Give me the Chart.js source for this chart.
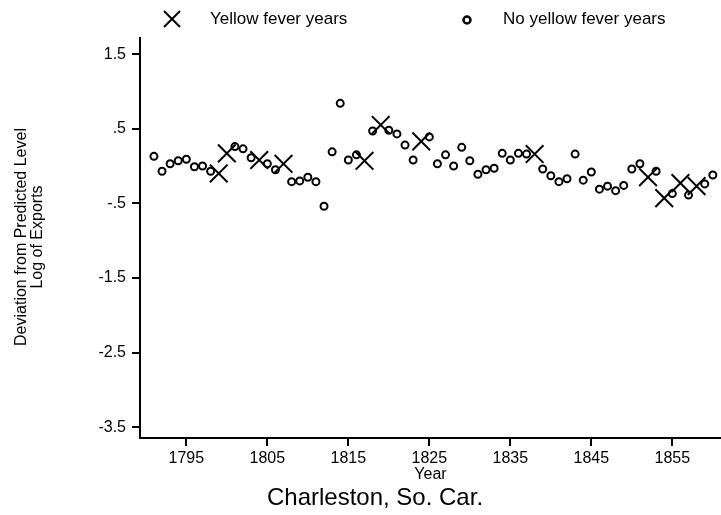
<!DOCTYPE html>
<html>
<head>
<meta charset="utf-8">
<script src="https://cdn.jsdelivr.net/npm/chart.js@4/dist/chart.umd.min.js"></script>
<style>
  html, body { margin: 0; padding: 0; background: #fff; }
  #wrap { width: 721px; height: 515px; position: relative; }
</style>
</head>
<body>
<div id="wrap"><canvas id="chart"></canvas></div>
<script>
// years with yellow fever (drawn as X)
const feverYears = [1799, 1800, 1804, 1807, 1817, 1819, 1824, 1838, 1852, 1854, 1856, 1858];
const feverValues = [-0.10, 0.17, 0.08, 0.03, 0.07, 0.55, 0.33, 0.16, -0.15, -0.43, -0.23, -0.27];

// years without yellow fever (drawn as small circles)
const otherYears = [1791, 1792, 1793, 1794, 1795, 1796, 1797, 1798, 1801, 1802, 1803, 1805, 1806,
  1808, 1809, 1810, 1811, 1812, 1813, 1814, 1815, 1816, 1818, 1820, 1821, 1822, 1823, 1825,
  1826, 1827, 1828, 1829, 1830, 1831, 1832, 1833, 1834, 1835, 1836, 1837, 1839, 1840, 1841,
  1842, 1843, 1844, 1845, 1846, 1847, 1848, 1849, 1850, 1851, 1853, 1855, 1857, 1859, 1860];
const otherValues = [0.13, -0.07, 0.03, 0.07, 0.09, -0.01, 0.00, -0.07, 0.26, 0.23, 0.11, 0.03, -0.05,
  -0.21, -0.20, -0.15, -0.21, -0.54, 0.19, 0.84, 0.08, 0.15, 0.47, 0.48, 0.43, 0.28, 0.08, 0.39,
  0.03, 0.15, 0.00, 0.25, 0.07, -0.11, -0.05, -0.03, 0.17, 0.08, 0.17, 0.16, -0.04, -0.13, -0.21,
  -0.17, 0.16, -0.19, -0.08, -0.31, -0.27, -0.33, -0.26, -0.04, 0.03, -0.07, -0.37, -0.39, -0.24, -0.12];

const xTicks = [1795, 1805, 1815, 1825, 1835, 1845, 1855];
const yTicks = [1.5, 0.5, -0.5, -1.5, -2.5, -3.5];

const FONT = '"Liberation Sans", Arial, Helvetica, sans-serif';

function fmtY(v) {
  let s = String(v);
  return s.replace(/^0\./, '.').replace(/^-0\./, '-.');
}

// legend, axis titles and caption
const textPlugin = {
  id: 'texts',
  afterDraw(chart) {
    const ctx = chart.ctx;
    const area = chart.chartArea;
    ctx.save();
    ctx.fillStyle = '#000';
    ctx.strokeStyle = '#000';

    // legend
    ctx.lineWidth = 2;
    ctx.beginPath();
    ctx.moveTo(164, 11); ctx.lineTo(180, 27);
    ctx.moveTo(180, 11); ctx.lineTo(164, 27);
    ctx.stroke();
    ctx.lineWidth = 2.5;
    ctx.beginPath();
    ctx.arc(467, 20, 3.5, 0, Math.PI * 2);
    ctx.stroke();
    ctx.font = '17px ' + FONT;
    ctx.textBaseline = 'middle';
    ctx.textAlign = 'left';
    ctx.fillText('Yellow fever years', 210, 19);
    ctx.fillText('No yellow fever years', 503, 19);

    // x title and caption
    ctx.textAlign = 'center';
    ctx.font = '16px ' + FONT;
    ctx.fillText('Year', (area.left + area.right) / 2, 475);
    ctx.font = '24px ' + FONT;
    ctx.fillText('Charleston, So. Car.', 375, 498);

    // y title
    ctx.translate(30, 237);
    ctx.rotate(-Math.PI / 2);
    ctx.font = '16px ' + FONT;
    ctx.fillText('Deviation from Predicted Level', 0, -8);
    ctx.fillText('Log of Exports', 0, 8);
    ctx.restore();
  }
};

const toPoints = (xs, ys) => xs.map((x, i) => ({ x: x, y: ys[i] }));

new Chart(document.getElementById('chart'), {
  type: 'scatter',
  data: {
    datasets: [
      {
        label: 'Yellow fever years',
        data: toPoints(feverYears, feverValues),
        pointStyle: 'crossRot',
        pointRadius: 12.5,
        borderColor: '#000',
        borderWidth: 2,
        pointHoverRadius: 12.5
      },
      {
        label: 'No yellow fever years',
        data: toPoints(otherYears, otherValues),
        pointStyle: 'circle',
        pointRadius: 3.5,
        borderColor: '#000',
        backgroundColor: 'rgba(255,255,255,0)',
        borderWidth: 2,
        pointHoverRadius: 3.5
      }
    ]
  },
  options: {
    responsive: true,
    maintainAspectRatio: false,
    animation: false,
    layout: { autoPadding: false, padding: { top: 38, left: 0, right: 0, bottom: 0 } },
    plugins: {
      legend: { display: false },
      tooltip: { enabled: false }
    },
    scales: {
      x: {
        type: 'linear',
        min: 1789.28,
        max: 1861.01,
        afterBuildTicks: s => { s.ticks = xTicks.map(v => ({ value: v })); },
        afterFit: s => { s.height = 77; s.paddingLeft = 0; s.paddingRight = 0; },
        border: { color: '#000', width: 2 },
        grid: { drawOnChartArea: false, color: '#000', tickLength: 8, lineWidth: 2 },
        ticks: {
          color: '#000',
          padding: 3,
          font: { family: FONT, size: 16 },
          maxRotation: 0,
          callback: v => String(v)
        }
      },
      y: {
        type: 'linear',
        min: -3.646,
        max: 1.716,
        afterBuildTicks: s => { s.ticks = yTicks.map(v => ({ value: v })); },
        afterFit: s => { s.width = 140; s.paddingTop = 0; s.paddingBottom = 0; },
        border: { color: '#000', width: 2 },
        grid: { drawOnChartArea: false, color: '#000', tickLength: 8, lineWidth: 2 },
        ticks: {
          color: '#000',
          padding: 6,
          font: { family: FONT, size: 16 },
          callback: v => fmtY(v)
        }
      }
    }
  },
  plugins: [textPlugin]
});
</script>
</body>
</html>
